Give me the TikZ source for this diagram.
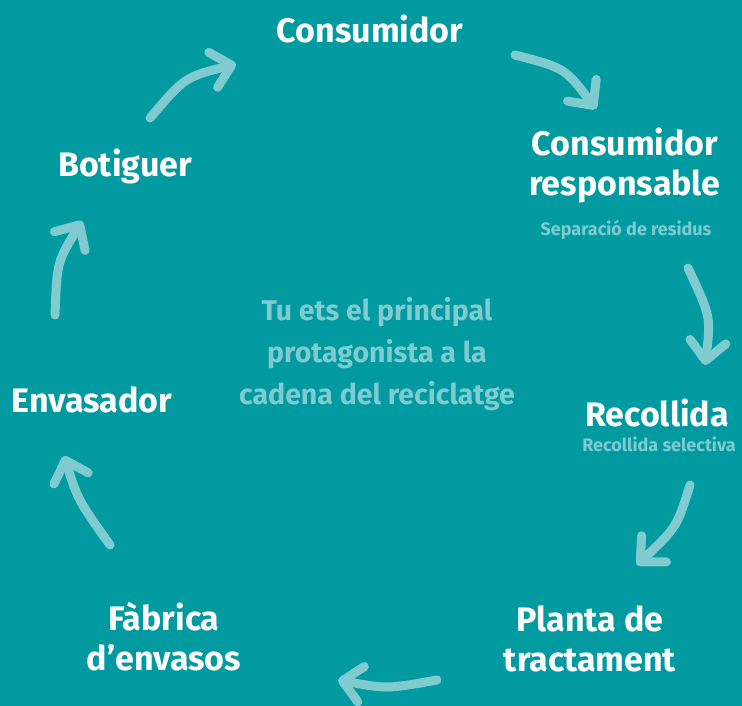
\documentclass[tikz,border=0pt]{standalone}
\usepackage{fontspec}
\setmainfont{Fira Sans}
\usetikzlibrary{arrows.meta}
\definecolor{bgteal}{RGB}{0,154,160}
\definecolor{lightteal}{RGB}{127,203,208}

\begin{document}
\begin{tikzpicture}[x=1pt,y=1pt,yscale=-1,
  stage/.style={text=white,font=\bfseries\fontsize{34}{40}\selectfont,inner sep=0pt,align=center},
  note/.style={text=lightteal,font=\bfseries\fontsize{18}{20}\selectfont,inner sep=0pt},
  flow/.style={draw=lightteal,line width=9pt,line cap=round,-{Straight Barb[length=19pt,width=36pt,round]}}]
%set diagram size 742 x 706
\clip (0,0) rectangle (742,706);
\fill[bgteal] (0,0) rectangle (742,706);

% Stages
\node[stage,anchor=base] (consumer) at (370,43) {Consumidor};
\node[stage,anchor=north] (responsible) at (625,128) {Consumidor\\responsable};
\node[note,anchor=base] (sorting) at (626,235) {Separació de residus};
\node[stage,anchor=base] (collection) at (657,426) {Recollida};
\node[note,anchor=base] (selective) at (659,451) {Recollida selectiva};
\node[stage,anchor=north] (plant) at (590,605) {Planta de\\tractament};
\node[stage,anchor=north] (factory) at (164,602) {Fàbrica\\d’envasos};
\node[stage,anchor=base] (packer) at (92,412) {Envasador};
\node[stage,anchor=base] (shop) at (125,177) {Botiguer};

% Centre text
\node[anchor=north,inner sep=0pt,align=center,text=lightteal,font=\bfseries\fontsize{28.5}{42}\selectfont] (motto) at (377,297) {Tu ets el principal\\protagonista a la\\cadena del reciclatge};

% Arrow ends
\coordinate (shopOut) at (150,118);   \coordinate (consumerIn) at (236,64);
\coordinate (consumerOut) at (515,55); \coordinate (responsibleIn) at (596,109);
\coordinate (responsibleOut) at (688,268); \coordinate (collectionIn) at (705,365);
\coordinate (collectionOut) at (690,485); \coordinate (plantIn) at (637,565);
\coordinate (plantOut) at (437,680);  \coordinate (factoryIn) at (338,680);
\coordinate (factoryOut) at (110,545); \coordinate (packerIn) at (64,456);
\coordinate (packerOut) at (55,315);  \coordinate (shopIn) at (82,221);

% Arrows
\draw[flow] (shopOut) .. controls (185,77) .. (consumerIn);
\draw[flow] (consumerOut) .. controls (565,68) .. (responsibleIn);
\draw[flow] (responsibleOut) .. controls (711,317) .. (collectionIn);
\draw[flow] (collectionOut) .. controls (677,527) .. (plantIn);
\draw[flow] (plantOut) .. controls (387,689) .. (factoryIn);
\draw[flow] (factoryOut) .. controls (78,500) .. (packerIn);
\draw[flow] (packerOut) .. controls (57,262) .. (shopIn);

\end{tikzpicture}
\end{document}
